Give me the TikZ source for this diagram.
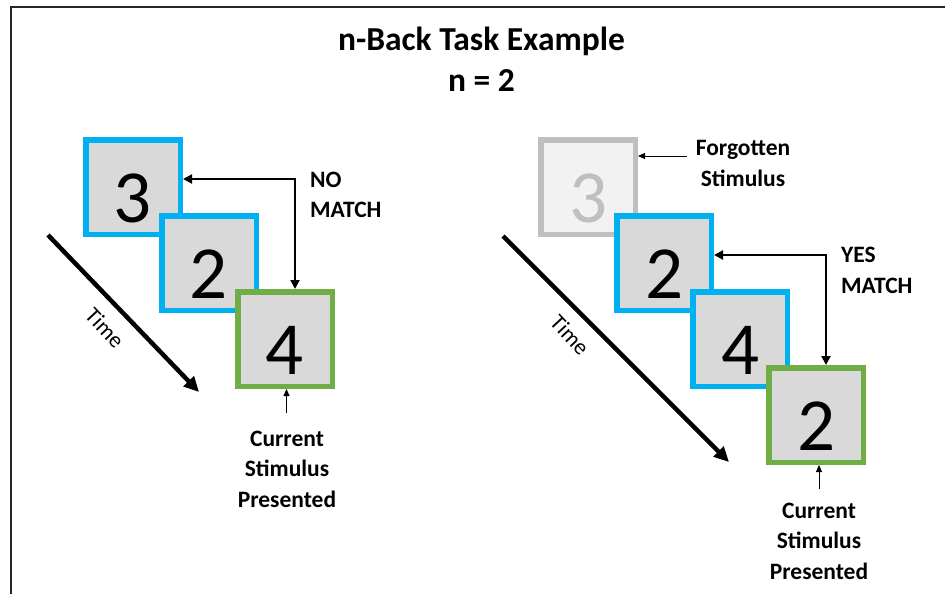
\documentclass[tikz,border=0pt]{standalone}
\usepackage{fontspec}
\setmainfont{Carlito}
\usetikzlibrary{arrows.meta,calc}
\definecolor{sblue}{HTML}{00B0F0}
\definecolor{sgreen}{HTML}{70AD47}
\definecolor{sfill}{HTML}{D9D9D9}
\definecolor{ffill}{HTML}{F2F2F2}
\definecolor{fgray}{HTML}{BFBFBF}
\begin{document}
\begin{tikzpicture}[x=1pt,y=-1pt,
  card/.style={draw, line width=5.5pt, minimum size=94.5pt, inner sep=0pt,
    fill=sfill, font=\fontsize{75}{75}\selectfont, text height=71pt, text depth=0pt},
  prevcard/.style={card, draw=sblue},
  curcard/.style={card, draw=sgreen},
  gonecard/.style={card, draw=fgray, fill=ffill, text=fgray},
  lbl/.style={font=\bfseries\fontsize{23.5}{30.5}\selectfont, align=center, inner sep=0pt},
  lbll/.style={lbl, align=left},
  titlefont/.style={font=\bfseries\fontsize{33.5}{33.5}\selectfont, inner sep=0pt},
  timelbl/.style={font=\fontsize{22.5}{22.5}\selectfont, inner sep=0pt, rotate=-47},
  timearrow/.style={line width=4.5pt, -{Triangle[length=15pt,width=14pt]}},
  dbl/.style={line width=2pt, {Triangle[length=9pt,width=9pt]}-{Triangle[length=9pt,width=9pt]}},
  thin/.style={line width=1pt, -{Triangle[length=7pt,width=6pt]}}]
\useasboundingbox (0,0) rectangle (945,594);
\fill[white] (0,0) rectangle (945,594);
% frame
\draw[line width=1.5pt, black!85] (945,7) -- (11,7) -- (11,594);
% title
\node[titlefont, anchor=base] (title) at (481.5,50.5) {n-Back Task Example};
\node[titlefont, anchor=base] (nval) at (481.5,92) {n = 2};

% left example
\node[prevcard] (b3) at (133,187) {3};
\node[prevcard] (b2) at (209,263) {2};
\node[curcard] (b4) at (285,339) {4};
\draw[dbl] ($(b3.east)+(0,-8)$) -| ($(b4.north)+(10,0)$);
\node[lbll, anchor=west] (nomatch) at (310,195) {NO\\MATCH};
\coordinate (t1s) at (48,235);
\coordinate (t1e) at (199,392);
\draw[timearrow] (t1s) -- (t1e);
\node[timelbl] (time1) at (105,328) {Time};
\coordinate (c1) at (286.5,413);
\draw[thin] (c1) -- (c1 |- b4.south);
\node[lbl] (cur1) at (287,469) {Current\\Stimulus\\Presented};

% right example
\node[gonecard] (r3) at (588,187) {3};
\node[prevcard] (r2) at (664,263) {2};
\node[prevcard] (r4) at (740,339) {4};
\node[curcard] (rg) at (816,415) {2};
\draw[dbl] ($(r2.east)+(0,-8)$) -| ($(rg.north)+(10,0)$);
\node[lbll, anchor=west] (yesmatch) at (841,270.5) {YES\\MATCH};
\coordinate (f1) at (687,156);
\draw[thin] (f1) -- (f1 -| r3.east);
\node[lbl] (forg) at (743,163.5) {Forgotten\\Stimulus};
\coordinate (t2s) at (503,236);
\coordinate (t2e) at (729,462);
\draw[timearrow] (t2s) -- (t2e);
\node[timelbl] (time2) at (570,335) {Time};
\coordinate (c2) at (819,489);
\draw[thin] (c2) -- (c2 |- rg.south);
\node[lbl] (cur2) at (819,541) {Current\\Stimulus\\Presented};
\end{tikzpicture}
\end{document}
